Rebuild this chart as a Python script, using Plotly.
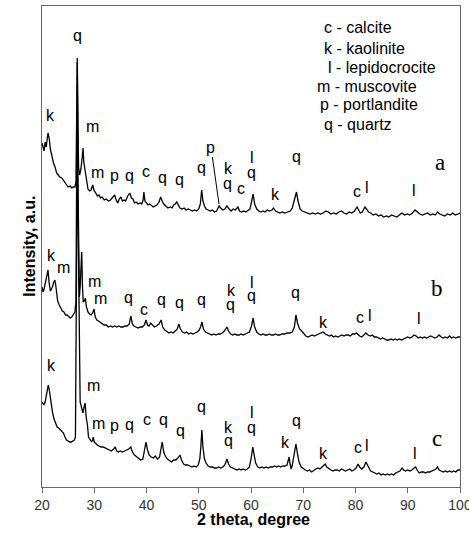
import plotly.graph_objects as go

# ---------------- data (2 theta in degree, intensity in a.u.) ----------------
theta_a = [20.0,20.2,20.4,20.6,20.8,21.15,21.4,21.6,21.9,22.2,22.5,22.8,23.1,23.4,23.8,24.1,24.4,24.7,25.0,25.4,25.7,26.0,26.3,26.5,26.62,26.75,26.9,27.0,27.2,27.45,27.7,27.85,28.0,28.2,28.5,28.8,29.1,29.4,29.7,30.0,30.3,30.6,30.9,31.2,31.5,31.9,32.3,32.7,33.1,33.5,33.9,34.2,34.5,34.8,35.1,35.4,35.7,36.0,36.4,36.8,37.1,37.4,37.7,38.0,38.4,38.8,39.1,39.35,39.5,39.7,40.0,40.3,40.6,41.0,41.3,41.6,42.0,42.4,42.7,43.0,43.3,43.7,44.1,44.5,44.9,45.2,45.5,45.8,46.1,46.4,46.8,47.2,47.6,48.0,48.4,48.8,49.2,49.6,50.0,50.3,50.56,50.8,51.1,51.4,51.8,52.2,52.6,53.0,53.4,53.9,54.2,54.6,55.0,55.4,55.8,56.2,56.6,57.0,57.5,57.8,58.2,58.6,59.0,59.4,59.8,60.1,60.4,60.7,61.1,61.5,61.9,62.3,62.7,63.1,63.5,64.0,64.3,64.7,65.1,65.5,66.0,66.5,67.0,67.5,67.9,68.3,68.7,69.0,69.4,69.8,70.3,70.8,71.3,71.8,72.3,72.8,73.3,73.8,74.3,74.8,75.3,75.8,76.3,76.8,77.3,77.8,78.3,78.8,79.3,79.8,80.3,80.6,80.9,81.3,81.8,82.1,82.5,82.9,83.4,83.9,84.4,84.9,85.4,85.9,86.4,86.9,87.4,87.9,88.4,88.9,89.4,89.9,90.4,90.9,91.4,91.8,92.3,92.8,93.3,93.8,94.3,94.8,95.3,95.7,96.1,96.6,97.1,97.6,98.1,98.6,99.1,99.6,100.0]
int_a = [344,338,336,345,340,354,348,338,330,324,320,314,312,310,309,307,305,302,300,301,299,300,300,305,350,429,360,320,312,318,330,339,325,318,305,298,296,297,302,296,294,291,292,289,290,287,288,286,287,289,292,287,284,288,290,286,287,286,291,294,289,288,284,285,283,284,283,287,295,286,284,282,283,281,280,281,282,285,290,286,283,281,279,280,279,282,283,285,282,279,278,279,277,278,277,276,277,276,278,283,297,286,281,278,277,276,277,275,276,281,279,277,278,281,278,276,278,277,280,276,275,276,275,277,278,285,293,283,278,276,275,276,275,277,276,277,279,276,275,274,275,274,275,276,279,287,295,286,278,276,275,274,273,274,273,274,273,274,276,275,273,274,273,275,276,274,273,275,274,276,280,277,274,275,280,278,275,274,272,273,271,272,270,271,270,272,271,270,272,274,272,273,272,274,277,275,273,272,273,274,272,273,272,275,273,272,271,273,272,274,272,273,274]

theta_b = [20.0,20.2,20.4,20.6,20.8,21.0,21.15,21.35,21.6,21.8,22.0,22.2,22.45,22.6,22.8,23.0,23.3,23.6,23.9,24.2,24.5,24.8,25.1,25.4,25.7,26.0,26.3,26.5,26.62,26.75,26.9,27.0,27.15,27.3,27.5,27.6,27.75,27.9,28.1,28.3,28.5,28.8,29.1,29.4,29.7,29.95,30.2,30.5,30.8,31.1,31.5,31.9,32.3,32.7,33.1,33.5,33.9,34.3,34.7,35.1,35.5,35.9,36.3,36.7,37.0,37.3,37.6,38.0,38.4,38.8,39.2,39.6,39.9,40.2,40.5,40.8,41.1,41.5,41.9,42.4,42.8,43.1,43.5,43.9,44.3,44.7,45.1,45.5,45.9,46.2,46.5,46.9,47.3,47.7,48.1,48.5,48.9,49.3,49.7,50.1,50.35,50.6,50.9,51.3,51.7,52.1,52.5,52.9,53.3,53.7,54.1,54.5,54.9,55.4,55.7,56.1,56.5,56.9,57.3,57.7,58.1,58.5,58.9,59.3,59.7,60.1,60.4,60.7,61.1,61.5,61.9,62.3,62.7,63.1,63.5,63.9,64.3,64.7,65.1,65.5,65.9,66.4,66.9,67.4,67.9,68.3,68.6,68.9,69.3,69.7,70.1,70.5,70.9,71.3,71.7,72.1,72.5,72.9,73.3,73.8,74.2,74.6,75.0,75.4,75.8,76.2,76.6,77.0,77.4,77.8,78.2,78.6,79.0,79.4,79.8,80.2,80.5,80.8,81.2,81.6,82.0,82.4,82.8,83.2,83.6,84.0,84.4,84.8,85.2,85.6,86.0,86.4,86.8,87.2,87.6,88.0,88.4,88.8,89.2,89.6,90.0,90.4,90.8,91.2,91.6,92.0,92.4,92.8,93.2,93.6,94.0,94.4,94.8,95.2,95.6,96.0,96.4,96.8,97.2,97.6,98.0,98.4,98.8,99.2,99.6,100.0]
int_b = [200,195,198,203,208,212,217,205,196,198,200,204,207,203,190,186,182,178,176,175,172,172,170,169,170,172,175,185,300,425,300,220,190,200,225,235,200,185,186,189,180,175,173,172,174,178,170,167,166,165,164,162,162,160,161,160,161,160,161,160,160,161,161,163,171,163,161,160,159,160,160,162,167,162,161,164,162,160,161,163,167,160,157,155,154,155,154,156,158,163,158,155,154,155,153,154,153,154,155,157,160,165,158,155,154,153,152,153,152,153,153,154,156,160,156,153,152,153,152,152,153,152,153,154,155,161,169,160,155,153,152,153,152,152,153,152,152,153,152,152,153,153,154,154,155,160,172,164,158,156,153,151,150,151,152,151,152,153,154,155,153,152,151,152,150,151,150,151,152,151,152,152,151,153,153,154,152,151,150,152,154,152,151,152,150,150,149,148,149,148,147,147,148,147,148,147,148,147,148,149,150,149,150,152,151,149,150,149,150,149,150,151,150,149,150,152,150,149,150,149,151,149,150,149,150,150]

theta_c = [20.0,20.2,20.4,20.6,20.8,21.0,21.2,21.4,21.6,21.8,22.0,22.3,22.6,22.9,23.2,23.5,23.8,24.1,24.4,24.7,25.0,25.3,25.6,25.9,26.2,26.4,26.55,26.75,26.95,27.15,27.3,27.55,27.85,28.05,28.25,28.45,28.7,28.9,29.2,29.5,29.7,29.8,30.0,30.3,30.6,30.9,31.3,31.7,32.1,32.5,32.9,33.3,33.7,34.0,34.3,34.6,35.0,35.4,35.8,36.2,36.6,37.0,37.3,37.7,38.1,38.5,38.9,39.3,39.6,39.9,40.2,40.5,40.9,41.3,41.7,42.1,42.5,42.8,43.0,43.3,43.6,44.0,44.4,44.8,45.2,45.6,46.0,46.4,46.7,47.1,47.5,47.9,48.3,48.7,49.1,49.5,49.9,50.2,50.4,50.6,50.8,51.1,51.4,51.8,52.2,52.6,53.0,53.4,53.8,54.2,54.6,55.0,55.4,55.7,56.1,56.5,56.9,57.3,57.7,58.1,58.5,58.9,59.3,59.7,60.0,60.35,60.6,60.9,61.3,61.7,62.1,62.5,62.9,63.3,63.7,64.1,64.5,64.9,65.3,65.7,66.1,66.5,66.9,67.1,67.3,67.5,67.7,67.9,68.2,68.6,68.9,69.2,69.6,70.0,70.4,70.8,71.2,71.6,72.0,72.4,72.8,73.2,73.6,74.0,74.2,74.5,74.9,75.3,75.7,76.1,76.5,76.9,77.3,77.7,78.1,78.5,78.9,79.3,79.7,80.1,80.5,80.8,81.2,81.6,82.0,82.3,82.6,82.9,83.3,83.7,84.1,84.5,84.9,85.3,85.7,86.1,86.5,86.9,87.3,87.7,88.1,88.5,88.9,89.2,89.6,90.0,90.4,90.8,91.2,91.5,91.8,92.2,92.6,93.0,93.4,93.8,94.2,94.6,95.0,95.4,95.7,96.0,96.4,96.8,97.2,97.6,98.0,98.4,98.8,99.2,99.6,100.0]
int_c = [85,83,82,85,90,97,102,97,88,84,75,68,63,60,59,57,55,54,50,47,46,45,45,46,47,50,180,330,250,120,85,80,74,80,84,70,62,50,48,45,47,50,45,43,42,41,40,40,39,38,37,36,38,40,36,35,36,35,36,37,38,40,35,32,30,29,27,28,35,45,37,32,30,29,31,28,30,38,45,35,31,28,26,25,27,27,29,32,27,23,22,22,21,20,21,20,22,28,40,57,40,28,24,21,20,20,19,19,20,19,20,22,28,23,20,19,18,17,18,17,18,17,18,20,28,40,32,24,20,19,20,19,20,19,20,20,21,20,21,20,21,21,22,28,30,22,18,22,30,43,33,25,20,18,17,16,17,15,17,18,19,18,20,22,23,20,18,17,16,17,17,16,18,17,16,17,18,16,17,19,23,20,18,20,25,22,18,16,15,14,13,14,12,13,12,13,12,13,12,14,15,16,19,17,16,17,16,17,19,20,17,14,15,15,14,15,15,16,17,18,20,17,16,15,16,15,16,15,16,15,17,17]

# peak labels: (phase letter, 2 theta, intensity)
labels_a = [("q",26.70,449),("k",21.72,372),("m",29.57,360),("m",30.53,314),("p",33.97,309),("q",36.84,309),
            ("c",39.90,315),("q",42.97,307),("q",46.41,305),("q",50.43,317),("k",55.60,319),("q",55.41,301),
            ("c",58.09,298),("l",60.19,330),("q",60.19,312),("k",64.78,293),("q",68.80,328),("c",80.29,295),
            ("l",82.20,300),("l",91.20,297)]
label_p_a = ("p", 52.34, 340, 53.88, 283)   # label with leader line (text x, y, tip x, y)
labels_b = [("k",21.91,232),("m",24.02,219),("m",30.14,205),("m",31.10,188),("q",36.46,187),("c",39.52,177),
            ("q",42.78,185),("q",46.22,182),("q",50.62,185),("k",56.36,197),("q",55.98,180),("l",60.19,205),
            ("q",60.19,189),("q",68.61,192),("k",73.97,165),("c",80.86,169),("l",82.78,172),("l",92.15,169)]
labels_c = [("k",21.91,122),("m",29.95,101),("m",30.72,63),("p",33.97,59),("q",36.84,60),("c",40.10,67),
            ("q",43.16,65),("q",46.60,54),("q",50.43,78),("k",55.60,60),("q",55.60,44),("l",60.19,75),
            ("q",60.19,57),("k",66.51,45),("q",68.80,64),("k",73.78,34),("c",80.48,39),("l",82.20,42),
            ("l",91.39,34)]
series_names = [("a",96.17,325),("b",95.60,199),("c",95.60,49)]
legend_lines = [("c - calcite",73.59,460),("k - kaolinite",73.59,439),("l - lepidocrocite",74.35,420),
                ("m - muscovite",72.25,401),("p - portlandite",72.82,383),("q - quartz",73.59,363)]
x_ticks = [20,30,40,50,60,70,80,90,100]

# ---------------- figure ----------------
fig = go.Figure()
for tx, ty in [(theta_a,int_a),(theta_b,int_b),(theta_c,int_c)]:
    fig.add_trace(go.Scatter(x=tx, y=ty, mode="lines", line=dict(color="black", width=1.3),
                             showlegend=False, hoverinfo="skip"))

LF = dict(family="Liberation Sans, Arial, sans-serif", size=16, color="black")
shift = {"q":3,"p":3,"m":1,"c":1,"k":0,"l":0}
ann = []
for lab in (labels_a, labels_b, labels_c):
    for t, x, y in lab:
        ann.append(dict(x=x, y=y, text=t, showarrow=False, font=LF, xref="x", yref="y", yshift=shift[t]))
t, px, py, tipx, tipy = label_p_a
ann.append(dict(x=tipx, y=tipy, ax=px, ay=py, axref="x", ayref="y", xref="x", yref="y", text=t,
                showarrow=True, arrowhead=0, arrowwidth=1, arrowcolor="black", font=LF, standoff=0))
for t, x, y in series_names:
    ann.append(dict(x=x, y=y, text=t, showarrow=False, xref="x", yref="y",
                    font=dict(family="Liberation Serif, Times New Roman, serif", size=23, color="black")))
for t, x, y in legend_lines:
    ann.append(dict(x=x, y=y, text=t, showarrow=False, xref="x", yref="y", xanchor="left", font=LF))
ann.append(dict(x=0.507, y=-0.089, xref="paper", yref="paper", text="<b>2 theta, degree</b>", showarrow=False,
                font=dict(family="Liberation Sans, Arial, sans-serif", size=16, color="black")))
ann.append(dict(x=-0.057, y=0.501, xref="paper", yref="paper", text="<b>Intensity, a.u.</b>", showarrow=False,
                textangle=-90, font=dict(family="Liberation Sans, Arial, sans-serif", size=16, color="black")))

fig.update_layout(
    width=469, height=544, margin=dict(l=42, r=9, t=6, b=57, autoexpand=False),
    paper_bgcolor="white", plot_bgcolor="white", annotations=ann,
    xaxis=dict(range=[20,100], tickvals=x_ticks, ticks="outside", ticklen=5, tickcolor="#666",
               showline=True, linecolor="#666", linewidth=1, mirror=True, showgrid=False, zeroline=False,
               ticklabeloverflow="allow", automargin=False,
               tickfont=dict(family="Liberation Sans, Arial, sans-serif", size=14, color="#333")),
    yaxis=dict(range=[0,481], showticklabels=False, ticks="", showline=True, linecolor="#666", linewidth=1,
               mirror=True, showgrid=False, zeroline=False, automargin=False),
)
fig.write_html("out.html")
